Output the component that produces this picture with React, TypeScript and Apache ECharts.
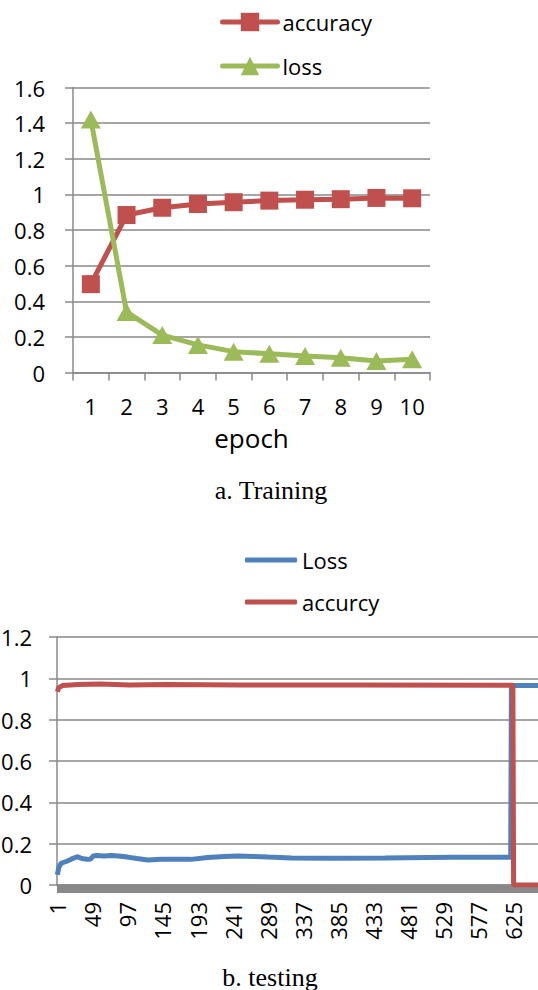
import React, { useEffect, useRef } from 'react';
import * as echarts from 'echarts';

// ---- Training chart data ----
const epochs = ['1', '2', '3', '4', '5', '6', '7', '8', '9', '10'];
const trainAccuracy = [0.496, 0.884, 0.925, 0.946, 0.956, 0.965, 0.97, 0.973, 0.98, 0.978];
const trainLoss = [1.42, 0.34, 0.21, 0.155, 0.117, 0.105, 0.092, 0.083, 0.064, 0.075];
const trainTicks = [0, 0.2, 0.4, 0.6, 0.8, 1, 1.2, 1.4, 1.6];

// ---- Testing chart data ----
const testSampleCount = 664;
const testSamples = Array.from({ length: testSampleCount }, (_, i) => String(i + 1));
// [sample number, value] key points
const testLoss: [number, number][] = [
  [1, 0.05], [3, 0.085], [6, 0.105], [10, 0.11], [14, 0.115], [20, 0.125], [28, 0.137],
  [33, 0.13], [37, 0.127], [42, 0.125], [46, 0.124], [50, 0.14], [55, 0.143], [65, 0.14],
  [75, 0.143], [85, 0.14], [97, 0.135], [110, 0.128], [125, 0.121], [143, 0.125], [165, 0.125],
  [184, 0.124], [207, 0.133], [230, 0.138], [248, 0.14], [270, 0.138], [290, 0.135],
  [322, 0.131], [381, 0.13], [450, 0.131], [542, 0.134], [622, 0.134], [623, 0.965], [664, 0.965],
];
const testAccuracy: [number, number][] = [
  [1, 0.935], [3, 0.955], [8, 0.965], [30, 0.97], [60, 0.972], [100, 0.968], [150, 0.97],
  [250, 0.968], [400, 0.968], [625, 0.967], [626, 0], [664, 0],
];
const testTicks = [0, 0.2, 0.4, 0.6, 0.8, 1, 1.2];

const FONT = 'Open Sans';
const GRID = '#888888';
const RED = '#C0504D';
const GREEN = '#9BBB59';
const BLUE = '#4F81BD';

export default function App() {
  const ref = useRef<HTMLDivElement>(null);
  useEffect(() => {
    if (!ref.current) return;
    const chart = echarts.init(ref.current, null, { renderer: 'svg' });
    const label = { color: '#000', fontSize: 22, fontFamily: FONT };
    const line = { color: GRID, width: 1.5 };
    const legendText = { color: '#000', fontSize: 22, fontFamily: FONT, lineHeight: 26 };
    const legendLine = { width: 5, cap: 'round' };
    chart.setOption({
      animation: false,
      backgroundColor: '#fff',
      grid: [
        { left: 73, top: 87.5, width: 357, height: 285, outerBoundsMode: 'none', containLabel: false },
        { left: 57, top: 637, width: testSampleCount * 0.73, height: 248, outerBoundsMode: 'none', containLabel: false },
      ],
      legend: [
        { data: ['accuracy'], left: 220, top: 9, padding: 0, itemWidth: 55, itemHeight: 23, textStyle: legendText, lineStyle: legendLine, selectedMode: false },
        { data: ['loss'], left: 220, top: 53, padding: 0, itemWidth: 55, itemHeight: 23, textStyle: legendText, lineStyle: legendLine, selectedMode: false },
        { data: [{ name: 'Loss', icon: 'roundRect' }], left: 245, top: 547, padding: 0, itemWidth: 52, itemHeight: 5, textStyle: legendText, selectedMode: false },
        { data: [{ name: 'accurcy', icon: 'roundRect' }], left: 245, top: 589, padding: 0, itemWidth: 52, itemHeight: 5, textStyle: legendText, selectedMode: false },
      ],
      xAxis: [
        {
          type: 'category', gridIndex: 0, data: epochs, boundaryGap: true,
          axisLine: { lineStyle: line },
          axisTick: { show: true, length: 8, lineStyle: line },
          axisLabel: { ...label, margin: 22, interval: 0 },
          splitLine: { show: false },
          name: 'epoch', nameLocation: 'middle', nameGap: 52,
          nameTextStyle: { color: '#000', fontSize: 26, fontFamily: FONT },
        },
        {
          type: 'category', gridIndex: 1, data: testSamples, boundaryGap: true,
          axisLine: { lineStyle: line },
          axisTick: { show: true, interval: 0, length: 8, lineStyle: { color: GRID, width: 1 } },
          axisLabel: { ...label, margin: 17, interval: 47, rotate: 90 },
          splitLine: { show: false },
        },
      ],
      yAxis: [
        {
          type: 'value', gridIndex: 0, min: trainTicks[0], max: trainTicks[trainTicks.length - 1], interval: 0.2,
          axisLine: { show: true, lineStyle: line },
          axisTick: { show: true, length: 8, lineStyle: line },
          splitLine: { lineStyle: line },
          axisLabel: { ...label, margin: 28 },
        },
        {
          type: 'value', gridIndex: 1, min: testTicks[0], max: testTicks[testTicks.length - 1], interval: 0.2,
          axisLine: { show: true, lineStyle: line },
          axisTick: { show: true, length: 8, lineStyle: line },
          splitLine: { lineStyle: line },
          axisLabel: { ...label, margin: 25 },
        },
      ],
      series: [
        {
          name: 'accuracy', type: 'line', xAxisIndex: 0, yAxisIndex: 0, data: trainAccuracy,
          symbol: 'rect', symbolSize: 18,
          lineStyle: { color: RED, width: 5, cap: 'round' }, itemStyle: { color: RED },
        },
        {
          name: 'loss', type: 'line', xAxisIndex: 0, yAxisIndex: 0, data: trainLoss,
          symbol: 'triangle', symbolSize: [20, 18],
          lineStyle: { color: GREEN, width: 5, cap: 'round' }, itemStyle: { color: GREEN },
        },
        {
          name: 'Loss', type: 'line', xAxisIndex: 1, yAxisIndex: 1,
          data: testLoss.map(([s, v]) => [s - 1, v]),
          symbol: 'none', lineStyle: { color: BLUE, width: 5 }, itemStyle: { color: BLUE },
        },
        {
          name: 'accurcy', type: 'line', xAxisIndex: 1, yAxisIndex: 1,
          data: testAccuracy.map(([s, v]) => [s - 1, v]),
          symbol: 'none', lineStyle: { color: RED, width: 5 }, itemStyle: { color: RED },
        },
      ],
      graphic: [
        {
          type: 'text', x: 271, y: 490,
          style: { text: 'a. Training', fill: '#000', fontSize: 26, fontFamily: 'Liberation Serif', align: 'center', verticalAlign: 'middle' },
        },
        {
          type: 'text', x: 270, y: 977,
          style: { text: 'b. testing', fill: '#000', fontSize: 26, fontFamily: 'Liberation Serif', align: 'center', verticalAlign: 'middle' },
        },
      ],
    });
    return () => chart.dispose();
  }, []);
  return (
    <div
      ref={ref}
      style={{ position: 'absolute', left: 0, top: 0, width: 538, height: 990, overflow: 'hidden' }}
    />
  );
}
